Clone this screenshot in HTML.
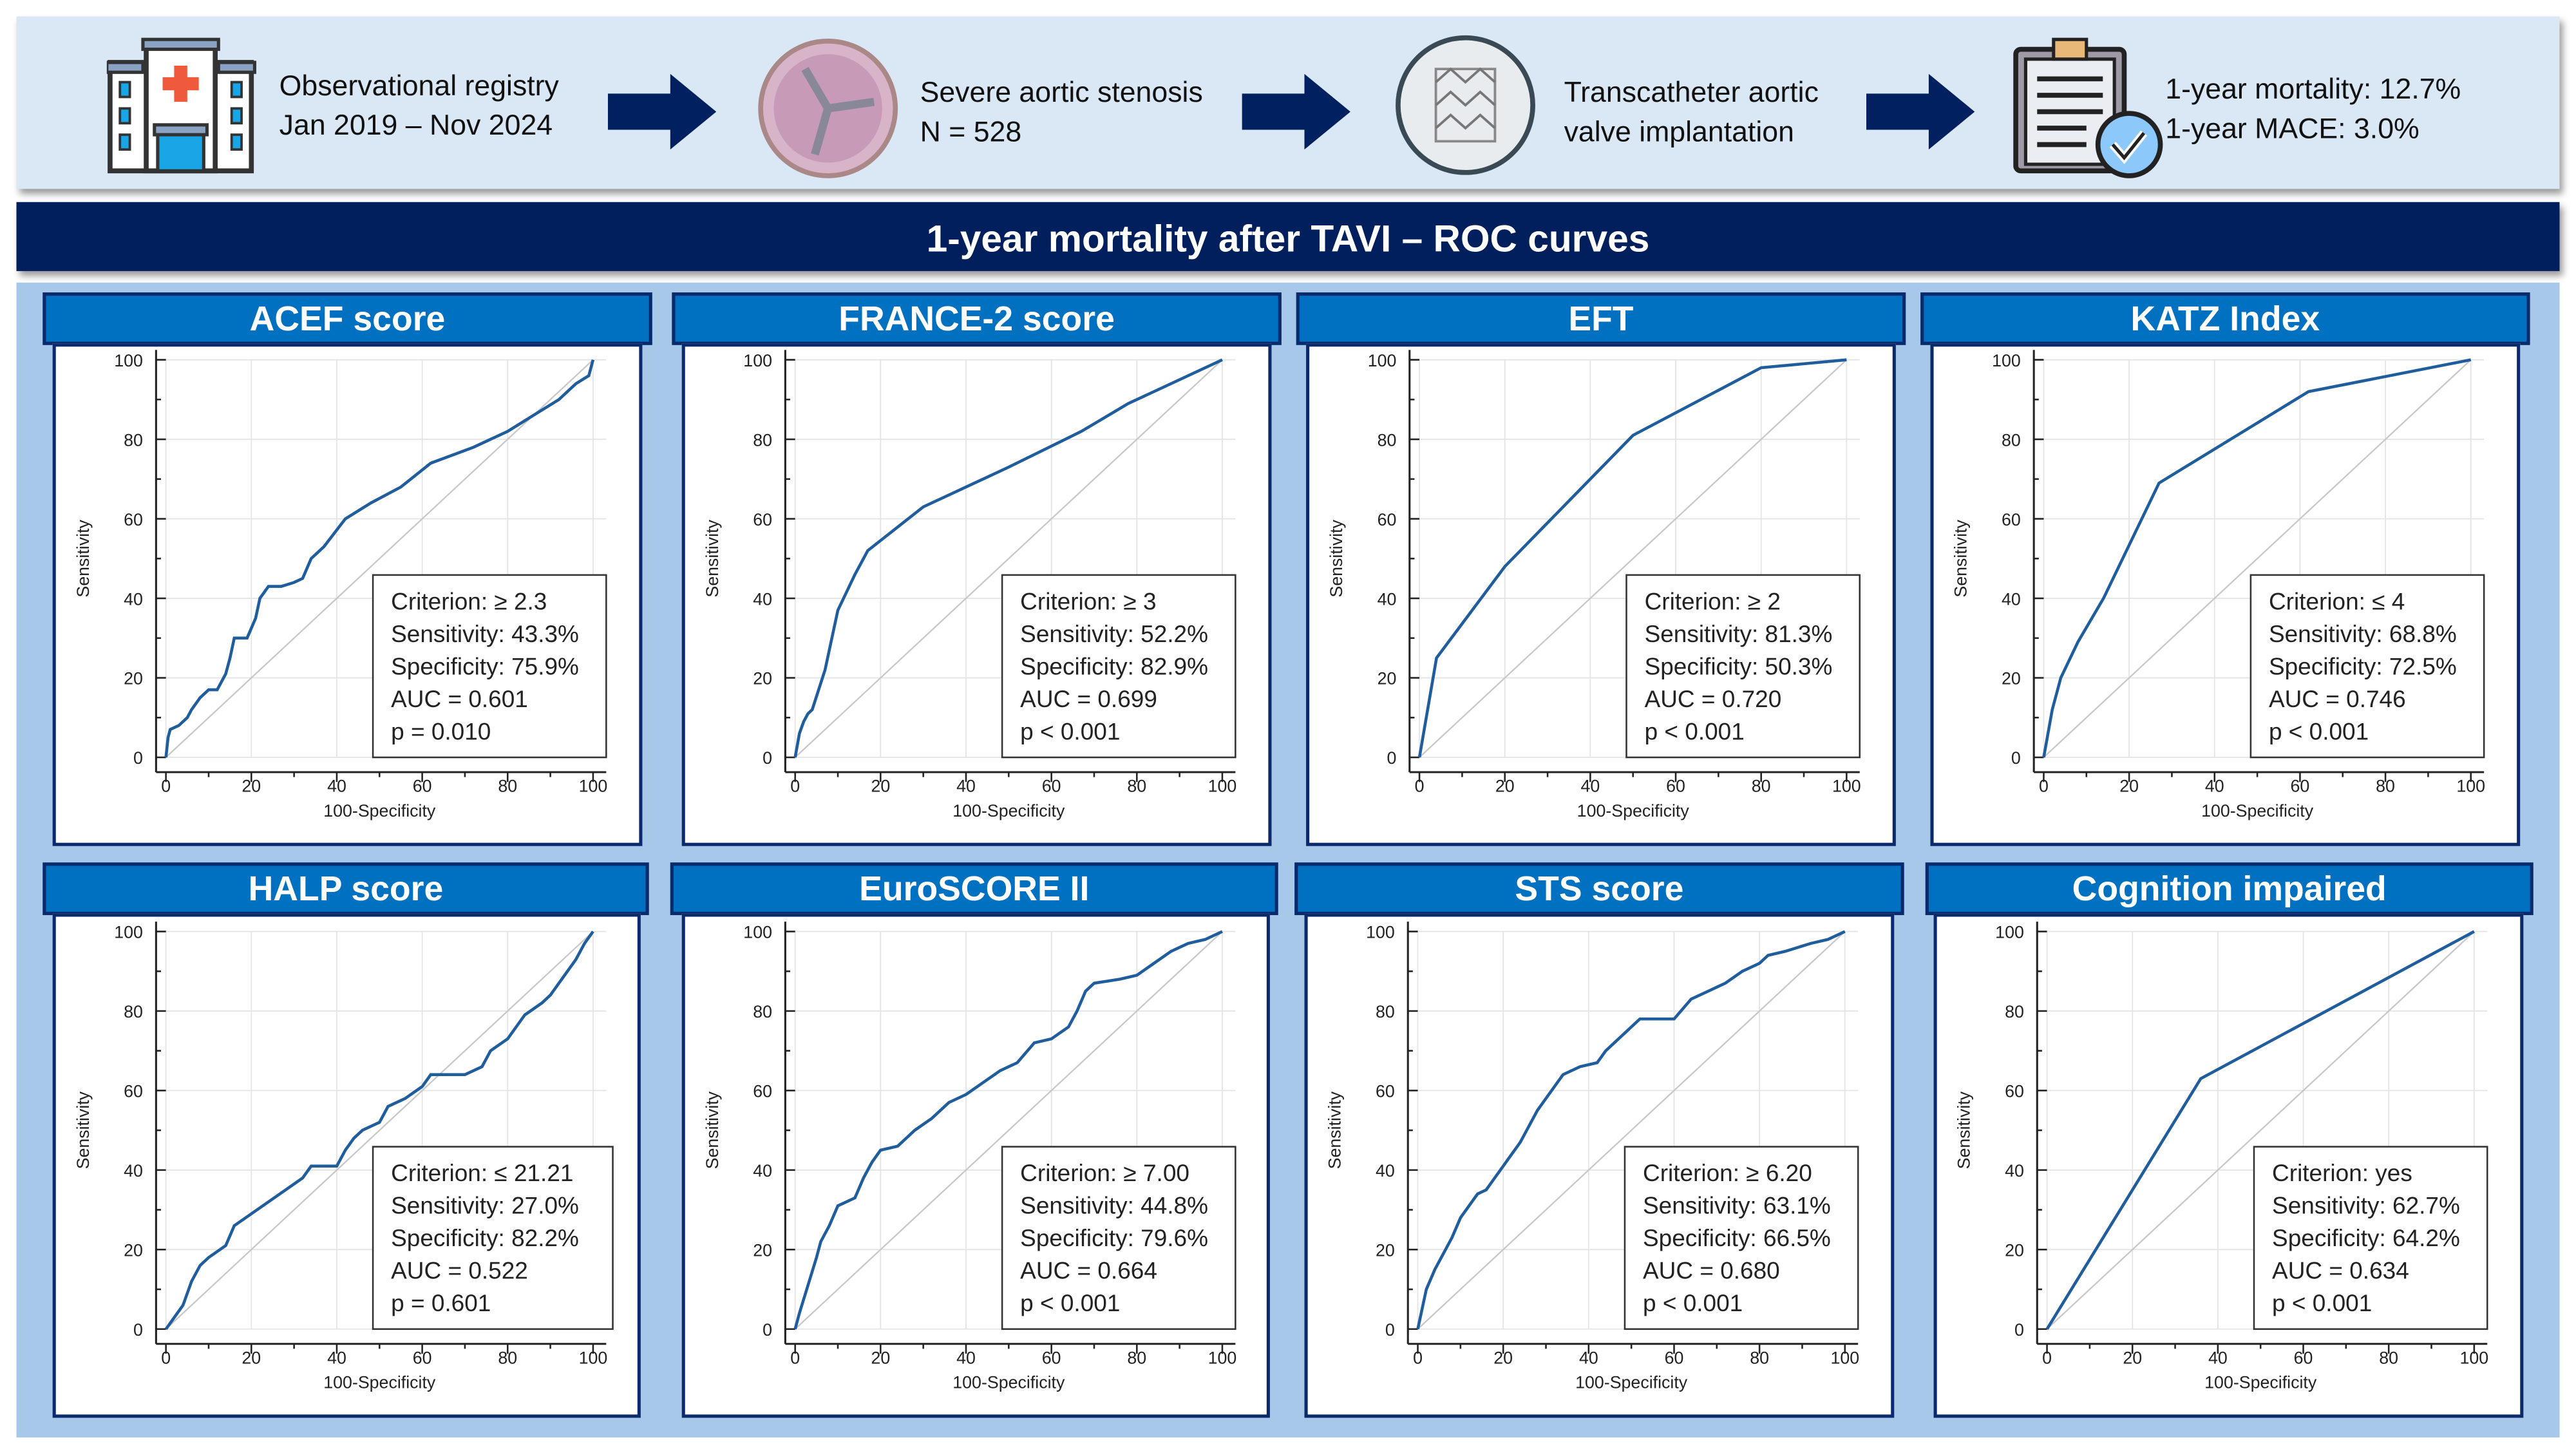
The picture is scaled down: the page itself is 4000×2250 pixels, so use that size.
<!DOCTYPE html>
<html><head><meta charset="utf-8">
<style>
html,body{margin:0;padding:0;background:#fff;width:4000px;height:2250px;overflow:hidden;font-family:"Liberation Sans",sans-serif}
#wrap{position:absolute;left:0;top:0;width:1568px;height:882px;transform:scale(2.55102);transform-origin:0 0}
.abs{position:absolute}
.banner{left:10px;top:10px;width:1548px;height:105px;background:#dae8f6;box-shadow:2px 3px 4px #999}
.btxt{font-size:17.5px;line-height:24px;color:#111}
.title{left:10px;top:123px;width:1548px;height:42px;background:#001f5c;color:#fff;font-weight:bold;font-size:23px;text-align:center;line-height:44px;box-shadow:2px 3px 4px #999}
.main{left:10px;top:172px;width:1548px;height:703px;background:#a8c8ea}
.hdr{background:#0070c0;border:2px solid #0b2a6b;box-sizing:border-box;color:#fff;font-weight:bold;font-size:21px;text-align:center;line-height:29px}
.box{background:#fff;border:2px solid #0b2a6b;box-sizing:border-box}
</style></head><body>
<div id="wrap">
<div class="abs banner">
  <svg class="abs" style="left:55px;top:12px" width="92" height="84">
    <rect x="2" y="16" width="86" height="66" fill="#fff" stroke="#333" stroke-width="3"/>
    <rect x="24" y="5" width="42" height="77" fill="#fff" stroke="#333" stroke-width="3"/>
    <rect x="22" y="2" width="46" height="6" fill="#8aa3c4" stroke="#333" stroke-width="2"/>
    <rect x="0" y="16" width="22" height="6" fill="#8aa3c4" stroke="#333" stroke-width="2"/>
    <rect x="68" y="16" width="22" height="6" fill="#8aa3c4" stroke="#333" stroke-width="2"/>
    <path d="M41 18h8v7h7v8h-7v7h-8v-7h-7v-8h7z" fill="#ef5a3c"/>
    <rect x="31" y="58" width="28" height="24" fill="#1aa6e6" stroke="#333" stroke-width="2"/>
    <rect x="29" y="54" width="32" height="6" fill="#8aa3c4" stroke="#333" stroke-width="2"/>
    <g fill="#1aa6e6" stroke="#333" stroke-width="1.5"><rect x="8" y="28" width="6" height="9"/><rect x="8" y="44" width="6" height="9"/><rect x="8" y="60" width="6" height="9"/><rect x="76" y="28" width="6" height="9"/><rect x="76" y="44" width="6" height="9"/><rect x="76" y="60" width="6" height="9"/></g>
  </svg>
  <div class="abs btxt" style="left:160px;top:30px">Observational registry<br>Jan 2019 – Nov 2024</div>
  <svg class="abs" style="left:360px;top:35px" width="66" height="46"><path d="M0 12h38V0l28 23-28 23V34H0z" fill="#002060"/></svg>
  <svg class="abs" style="left:450px;top:12px" width="90" height="88"><circle cx="44" cy="44" r="41" fill="#d8b4c8" stroke="#a88" stroke-width="3"/><circle cx="44" cy="44" r="33" fill="#c79ab8"/><path d="M44 44L30 20M44 44L72 40M44 44L36 72" stroke="#889" stroke-width="5" fill="none"/></svg>
  <div class="abs btxt" style="left:550px;top:34px">Severe aortic stenosis<br>N = 528</div>
  <svg class="abs" style="left:746px;top:35px" width="66" height="46"><path d="M0 12h38V0l28 23-28 23V34H0z" fill="#002060"/></svg>
  <svg class="abs" style="left:838px;top:10px" width="90" height="88"><circle cx="44" cy="44" r="41" fill="#e8ecef" stroke="#3a4a55" stroke-width="3"/><path d="M26 22h36v44H26z" fill="none" stroke="#888" stroke-width="1.5"/><path d="M26 30l9-8 9 8 9-8 9 8M26 44l9-8 9 8 9-8 9 8M26 58l9-8 9 8 9-8 9 8" fill="none" stroke="#777" stroke-width="1.5"/></svg>
  <div class="abs btxt" style="left:942px;top:34px">Transcatheter aortic<br>valve implantation</div>
  <svg class="abs" style="left:1126px;top:35px" width="66" height="46"><path d="M0 12h38V0l28 23-28 23V34H0z" fill="#002060"/></svg>
  <svg class="abs" style="left:1212px;top:8px" width="100" height="92"><rect x="5" y="12" width="66" height="74" rx="3" fill="#a09aa6" stroke="#222" stroke-width="3"/><rect x="11" y="18" width="54" height="64" fill="#eaeef2" stroke="#222" stroke-width="2"/><rect x="28" y="6" width="20" height="12" fill="#e8b878" stroke="#222" stroke-width="2"/><g stroke="#222" stroke-width="3"><line x1="18" y1="30" x2="58" y2="30"/><line x1="18" y1="40" x2="58" y2="40"/><line x1="18" y1="50" x2="58" y2="50"/><line x1="18" y1="60" x2="48" y2="60"/><line x1="18" y1="70" x2="48" y2="70"/></g><ellipse cx="74" cy="70" rx="19" ry="19" fill="#8cc8fa" stroke="#222" stroke-width="3"/><path d="M64 70l7 8 12-15" fill="none" stroke="#fff" stroke-width="5"/><path d="M64 70l7 8 12-15" fill="none" stroke="#222" stroke-width="2"/></svg>
  <div class="abs btxt" style="left:1308px;top:32px">1-year mortality: 12.7%<br>1-year MACE: 3.0%</div>
</div>
<div class="abs title">1-year mortality after TAVI – ROC curves</div>
<div class="abs main"></div>
<div id="panels"></div>
</div>
<script>
const titles=["ACEF score","FRANCE-2 score","EFT","KATZ Index","HALP score","EuroSCORE II","STS score","Cognition impaired"];
const criteria=["≥ 2.3","≥ 3","≥ 2","≤ 4","≤ 21.21","≥ 7.00","≥ 6.20","yes"];
const sensitivities=["43.3%","52.2%","81.3%","68.8%","27.0%","44.8%","63.1%","62.7%"];
const specificities=["75.9%","82.9%","50.3%","72.5%","82.2%","79.6%","66.5%","64.2%"];
const aucs=["0.601","0.699","0.720","0.746","0.522","0.664","0.680","0.634"];
const pvals=["= 0.010","< 0.001","< 0.001","< 0.001","= 0.601","< 0.001","< 0.001","< 0.001"];
const ticks=[0,20,40,60,80,100];
const fpr0=[0,0.5,1,3,5,6,8,10,12,14,15,16,19,21,22,24,27,30,32,34,37,42,48,55,62,72,80,86,92,96,99,100];
const tpr0=[0,5,7,8,10,12,15,17,17,21,25,30,30,35,40,43,43,44,45,50,53,60,64,68,74,78,82,86,90,94,96,100];
const fpr1=[0,1,2,3,4,7,10,14,17,30,50,67,78,100];
const tpr1=[0,6,9,11,12,22,37,46,52,63,73,82,89,100];
const fpr2=[0,4,20,50,80,100];
const tpr2=[0,25,48,81,98,100];
const fpr3=[0,2,4,8,14,27,62,100];
const tpr3=[0,12,20,29,40,69,92,100];
const fpr4=[0,2,4,6,8,10,14,16,20,24,28,32,34,40,42,44,46,50,52,56,60,62,70,74,76,80,82,84,88,90,92,94,96,98,100];
const tpr4=[0,3,6,12,16,18,21,26,29,32,35,38,41,41,45,48,50,52,56,58,61,64,64,66,70,73,76,79,82,84,87,90,93,97,100];
const fpr5=[0,1,3,5,6,8,10,14,16,18,20,24,28,32,36,40,44,48,52,56,60,64,66,68,70,76,80,84,88,92,96,100];
const tpr5=[0,4,11,18,22,26,31,33,38,42,45,46,50,53,57,59,62,65,67,72,73,76,80,85,87,88,89,92,95,97,98,100];
const fpr6=[0,1,2,4,6,8,10,12,14,16,18,20,22,24,26,28,30,32,34,38,42,44,48,52,60,64,68,72,76,80,82,86,92,96,100];
const tpr6=[0,5,10,15,19,23,28,31,34,35,38,41,44,47,51,55,58,61,64,66,67,70,74,78,78,83,85,87,90,92,94,95,97,98,100];
const fpr7=[0,36,100];
const tpr7=[0,63,100];
const fprs=[fpr0,fpr1,fpr2,fpr3,fpr4,fpr5,fpr6,fpr7];
const tprs=[tpr0,tpr1,tpr2,tpr3,tpr4,tpr5,tpr6,tpr7];

const hdrX=[[26,397],[409,780],[789,1160],[1169,1540],[26,395],[408,778],[788,1159],[1172,1542]];
const boxX=[[32,391],[415,774],[795,1154],[1175,1534],[32,390],[415,773],[794,1153],[1177,1536]];
const NS="http://www.w3.org/2000/svg";
const host=document.getElementById('panels');
function sv(tag,attrs,parent){const e=document.createElementNS(NS,tag);for(const k in attrs)e.setAttribute(k,attrs[k]);parent.appendChild(e);return e;}
for(let i=0;i<8;i++){
  const row=i<4?0:1;
  const hy=row?525:178, by=row?556:209, bh=row?307:306;
  const h=document.createElement('div');
  h.className='abs hdr';
  h.style.cssText=`left:${hdrX[i][0]}px;top:${hy}px;width:${hdrX[i][1]-hdrX[i][0]}px;height:32px`;
  h.textContent=titles[i];
  
  
  host.appendChild(h);
  const b=document.createElement('div');
  b.className='abs box';
  const bw=boxX[i][1]-boxX[i][0];
  b.style.cssText=`left:${boxX[i][0]}px;top:${by}px;width:${bw}px;height:${bh}px`;
  
  
  host.appendChild(b);
  const s=sv('svg',{width:bw-4,height:bh-4,style:'position:absolute;left:0;top:0'},b);
  
  
  const ox=67, oy=row?251:250, W=260, H=242;
  const X=v=>ox+v/100*W, Y=v=>oy-v/100*H;
  ticks.forEach(t=>{
    sv('line',{x1:X(t),y1:Y(0),x2:X(t),y2:Y(100),stroke:'#e4e4e4','stroke-width':0.7},s);
    sv('line',{x1:X(0),y1:Y(t),x2:X(100)+8,y2:Y(t),stroke:'#e4e4e4','stroke-width':0.7},s);
  });
  const axX=ox-6, axY=oy+9;
  sv('line',{x1:axX,y1:Y(100)-6,x2:axX,y2:axY,stroke:'#222','stroke-width':1.2},s);
  sv('line',{x1:axX,y1:axY,x2:X(100)+8,y2:axY,stroke:'#222','stroke-width':1.2},s);
  for(let t=0;t<=100;t+=10){
    const L=t%20==0?6:3;
    sv('line',{x1:X(t),y1:axY,x2:X(t),y2:axY+L,stroke:'#222','stroke-width':1},s);
    sv('line',{x1:axX,y1:Y(t),x2:axX+L,y2:Y(t),stroke:'#222','stroke-width':1},s);
  }
  ticks.forEach(t=>{
    const tx=sv('text',{x:X(t),y:axY+12,'font-size':10.5,'text-anchor':'middle',fill:'#222'},s);tx.textContent=t;
    
    
    const ty=sv('text',{x:axX-8,y:Y(t)+4,'font-size':10.5,'text-anchor':'end',fill:'#222'},s);ty.textContent=t;
    
    
  });
  const xt=sv('text',{x:X(50),y:axY+27,'font-size':10.5,'text-anchor':'middle',fill:'#222'},s);xt.textContent='100-Specificity';
  
  
  const yt=sv('text',{x:0,y:0,'font-size':10.5,'text-anchor':'middle',fill:'#222',transform:`translate(${ox-47},${Y(50)}) rotate(-90)`},s);yt.textContent='Sensitivity';
  
  
  const dg=sv('line',{x1:X(0),y1:Y(0),x2:X(100),y2:Y(100),stroke:'#c8c8c8','stroke-width':0.9},s);
  
  
  const pts=fprs[i].map((f,k)=>X(f)+','+Y(tprs[i][k])).join(' ');
  const pl=sv('polyline',{points:pts,fill:'none',stroke:'#1f5d9c','stroke-width':1.8},s);
  
  
  const lx=ox+126, ly=oy-111, lw=row?(i==4?146:142):142;
  const lg=sv('g',{},s);
  
  
  sv('rect',{x:lx,y:ly,width:lw,height:111,fill:'#fff',stroke:'#333','stroke-width':1},lg);
  const lines=['Criterion: '+criteria[i],'Sensitivity: '+sensitivities[i],'Specificity: '+specificities[i],'AUC = '+aucs[i],'p '+pvals[i]];
  lines.forEach((t,k)=>{const e=sv('text',{x:lx+11,y:ly+21+k*19.8,'font-size':14.5,fill:'#222'},lg);e.textContent=t;});
}
</script>
</body></html>
